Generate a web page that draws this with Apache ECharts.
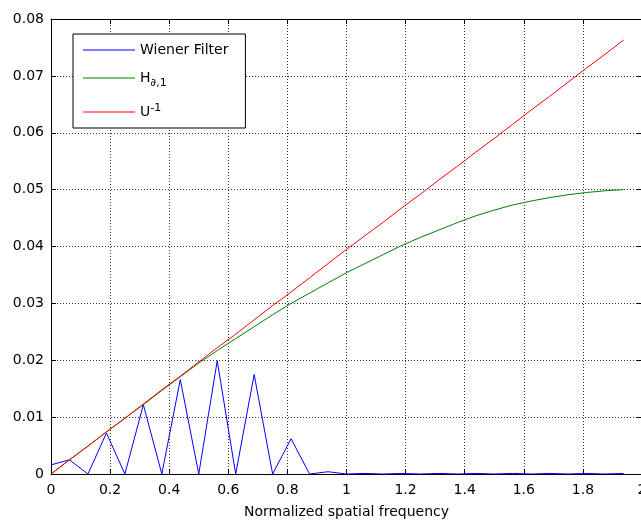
<!DOCTYPE html>
<html>
<head>
<meta charset="utf-8">
<script src="https://cdn.jsdelivr.net/npm/echarts@6/dist/echarts.min.js"></script>
<style>html,body{margin:0;padding:0;background:#fff}#c{width:641px;height:522px}</style>
</head>
<body>
<div id="c"></div>
<script>
const freq = [0, 0.0625, 0.125, 0.1875, 0.25, 0.3125, 0.375, 0.4375, 0.5, 0.5625, 0.625, 0.6875, 0.75, 0.8125, 0.875, 0.9375,
  1, 1.0625, 1.125, 1.1875, 1.25, 1.3125, 1.375, 1.4375, 1.5, 1.5625, 1.625, 1.6875, 1.75, 1.8125, 1.875, 1.9375];
const wiener = [0.0016, 0.0025, 0, 0.0072, 0, 0.0122, 0, 0.0166, 0, 0.0199, 0, 0.0175, 0, 0.0062, 0, 0.0004,
  0, 0.0001, 0, 0.0001, 0, 0.0001, 0, 0.0001, 0, 0.0001, 0, 0.0001, 0, 0.0001, 0, 0.0001];
const hPartial = [0, 0.0025, 0.0049, 0.0074, 0.0098, 0.0122, 0.0147, 0.0171, 0.0195, 0.0217, 0.0238, 0.0259, 0.0280, 0.0300, 0.0318, 0.0336,
  0.0354, 0.0370, 0.0386, 0.0402, 0.0416, 0.0429, 0.0442, 0.0454, 0.0464, 0.0473, 0.0480, 0.0486, 0.0491, 0.0495, 0.0498, 0.0500];
const uInv = [0, 0.0025, 0.0049, 0.0074, 0.0098, 0.0123, 0.0148, 0.0172, 0.0197, 0.0222, 0.0246, 0.0271, 0.0296, 0.0320, 0.0345, 0.0370,
  0.0395, 0.0419, 0.0443, 0.0468, 0.0492, 0.0517, 0.0541, 0.0566, 0.0590, 0.0615, 0.0640, 0.0664, 0.0689, 0.0714, 0.0738, 0.0763];
const seriesNames = ['Wiener Filter', 'H∂,1', 'U-1'];
const xAxisTitle = 'Normalized spatial frequency';

const FONT = 'DejaVu Sans';
function pairs(xs, ys) { return xs.map((x, i) => [x, ys[i]]); }

const chart = echarts.init(document.getElementById('c'), null, {renderer: 'canvas'});
const gridStyle = {show: true, lineStyle: {color: '#333', width: 1, type: [1, 2]}};
const tickIn = {show: true, inside: true, length: 5, lineStyle: {color: '#000'}};
chart.setOption({
  backgroundColor: '#fff',
  animation: false,
  textStyle: {fontFamily: FONT},
  grid: {left: 51, right: -1, top: 19, bottom: 48, containLabel: false, outerBoundsMode: 'none'},
  legend: {
    orient: 'vertical', left: 73, top: 34,
    backgroundColor: '#fff', borderColor: '#000', borderWidth: 1,
    padding: [9, 17, 9, 10], itemGap: 14,
    itemWidth: 52, itemHeight: 1, icon: 'rect', itemRadius: 0,
    data: seriesNames,
    formatter: function (name) {
      if (name === seriesNames[1]) return '{n|H}{si|∂}{sb|,1}';
      if (name === seriesNames[2]) return '{n|U}{sp|-1}';
      return '{n|' + name + '}';
    },
    textStyle: {
      fontFamily: FONT, fontSize: 14, color: '#000',
      rich: {
        n: {fontFamily: FONT, fontSize: 14, color: '#000'},
        si: {fontFamily: FONT, fontSize: 11, fontStyle: 'italic', color: '#000', padding: [10, 0, 0, 0]},
        sb: {fontFamily: FONT, fontSize: 11, color: '#000', padding: [10, 0, 0, 0]},
        sp: {fontFamily: FONT, fontSize: 11, color: '#000', padding: [0, 0, 8, 0]}
      }
    }
  },
  xAxis: [{
    type: 'value', min: 0, max: 2, interval: 0.2, position: 'bottom',
    axisLine: {show: true, onZero: false, lineStyle: {color: '#000', width: 1}},
    axisTick: tickIn, splitLine: gridStyle,
    axisLabel: {fontFamily: FONT, fontSize: 14, color: '#000', margin: 9},
    name: xAxisTitle, nameLocation: 'middle', nameGap: 31,
    nameTextStyle: {fontFamily: FONT, fontSize: 14, color: '#000'}
  }, {
    type: 'value', min: 0, max: 2, interval: 0.2, position: 'top',
    axisLine: {show: true, onZero: false, lineStyle: {color: '#000', width: 1}},
    axisTick: tickIn, splitLine: {show: false}, axisLabel: {show: false}
  }],
  yAxis: [{
    type: 'value', min: 0, max: 0.08, interval: 0.01, position: 'left',
    axisLine: {show: true, onZero: false, lineStyle: {color: '#000', width: 1}},
    axisTick: tickIn, splitLine: gridStyle,
    axisLabel: {fontFamily: FONT, fontSize: 14, color: '#000', margin: 7}
  }, {
    type: 'value', min: 0, max: 0.08, interval: 0.01, position: 'right',
    axisLine: {show: true, onZero: false, lineStyle: {color: '#000', width: 1}},
    axisTick: tickIn, splitLine: {show: false}, axisLabel: {show: false}
  }],
  series: [
    {name: seriesNames[0], type: 'line', data: pairs(freq, wiener), showSymbol: false, symbol: 'none',
     lineStyle: {color: '#0000ff', width: 1}, itemStyle: {color: '#0000ff'}},
    {name: seriesNames[1], type: 'line', data: pairs(freq, hPartial), showSymbol: false, symbol: 'none',
     lineStyle: {color: '#008000', width: 1}, itemStyle: {color: '#008000'}},
    {name: seriesNames[2], type: 'line', data: pairs(freq, uInv), showSymbol: false, symbol: 'none',
     lineStyle: {color: '#ff0000', width: 1}, itemStyle: {color: '#ff0000'}}
  ]
});
</script>
</body>
</html>
